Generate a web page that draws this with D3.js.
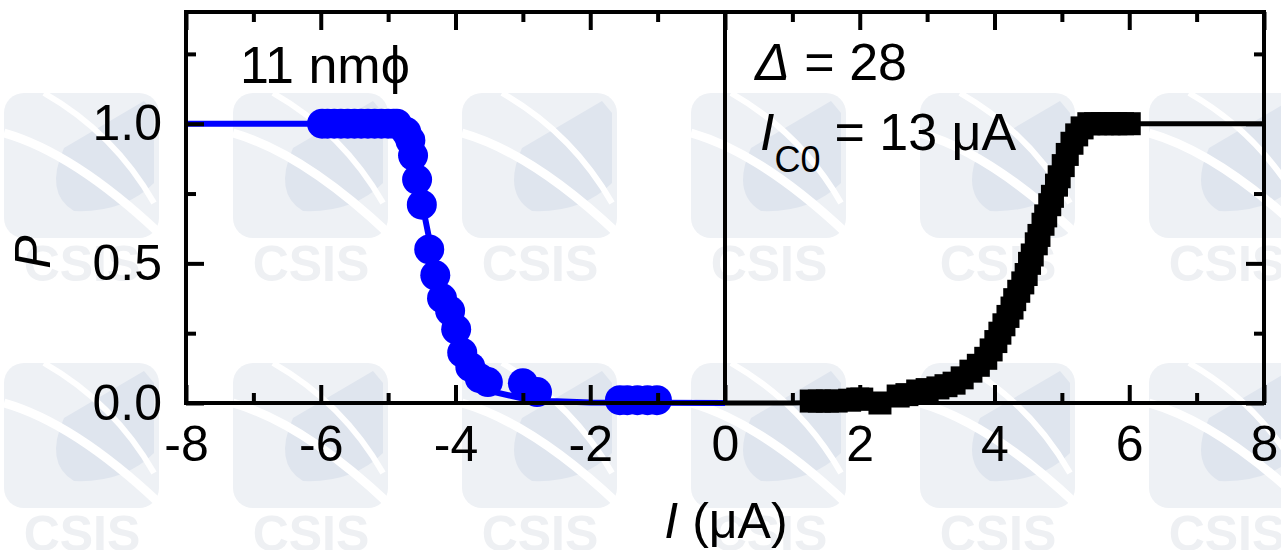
<!DOCTYPE html>
<html>
<head>
<meta charset="utf-8">
<script src="https://cdn.jsdelivr.net/npm/d3@7"></script>
<style>
  body { margin: 0; background: #fff; }
  svg { display: block; font-family: "Liberation Sans", Arial, sans-serif; }
</style>
</head>
<body>
<div id="chart"></div>
<script>
// tick values
const xTicks = [-8, -6, -4, -2, 0, 2, 4, 6, 8];
const xMinor = [-7, -5, -3, -1, 1, 3, 5, 7];
const yTicks = [0.0, 0.5, 1.0];
const yMinor = [0.25, 0.75, 1.25];

// 11 nm sample, negative current (blue circles)
const blueI = [-5.98, -5.9, -5.8, -5.7, -5.6, -5.5, -5.4, -5.3, -5.2, -5.1, -5.0, -4.92, -4.87,
    -4.73, -4.67, -4.63, -4.57, -4.50, -4.39, -4.30, -4.20, -4.08, -3.99, -3.90, -3.78, -3.64,
    -3.52, -3.0, -2.79, -1.56, -1.45, -1.3, -1.15, -1.01];
const blueP = [1, 1, 1, 1, 1, 1, 1, 1, 1, 1, 1, 1, 1,
    0.97, 0.94, 0.886, 0.80, 0.71, 0.55, 0.457, 0.375, 0.33, 0.264, 0.18, 0.129, 0.089,
    0.075, 0.071, 0.039, 0.01, 0.01, 0.01, 0.01, 0.01];
// fitted curve (blue)
const blueFitI = [-8, -5.2, -5.0, -4.9, -4.8, -4.7, -4.6, -4.5, -4.4, -4.3, -4.2, -4.1, -4.0, -3.8, -3.6, -3.4, -3.0, -2.6, -2.0, 0];
const blueFitP = [1, 1, 0.995, 0.98, 0.95, 0.9, 0.83, 0.72, 0.6, 0.48, 0.38, 0.3, 0.23, 0.13, 0.07, 0.038, 0.016, 0.007, 0.002, 0];

// positive current (black squares)
const blackI = [1.28, 1.4, 1.52, 1.65, 1.85, 1.97, 2.03, 2.3, 2.57, 2.7, 2.86, 3.0, 3.16, 3.28, 3.40,
    3.52, 3.65, 3.76, 3.87, 3.95, 4.02, 4.08,
    4.14, 4.2, 4.26, 4.3, 4.36, 4.42, 4.47, 4.52, 4.56, 4.62, 4.66, 4.72, 4.76, 4.82, 4.86,
    4.92, 4.96, 5.02, 5.08, 5.15, 5.22, 5.3,
    5.4, 5.5, 5.6, 5.7, 5.8, 5.9, 6.0];
const blackP = [0.007, 0.007, 0.007, 0.007, 0.01, 0.014, 0.014, 0.0, 0.025, 0.03, 0.043, 0.048, 0.054, 0.062, 0.071,
    0.09, 0.114, 0.135, 0.16, 0.19, 0.22, 0.25,
    0.28, 0.31, 0.34, 0.37, 0.40, 0.43, 0.46, 0.50, 0.53, 0.57, 0.60, 0.64, 0.67, 0.71, 0.74,
    0.78, 0.81, 0.85, 0.89, 0.93, 0.96, 0.985,
    1, 1, 1, 1, 1, 1, 1];
const blackFitI = [0, 1, 2, 3, 3.5, 4, 4.4, 4.8, 5.2, 5.6, 8];
const blackFitP = [0, 0, 0.005, 0.04, 0.09, 0.2, 0.4, 0.7, 0.93, 1.0, 1.0];

const width = 1281;
const height = 550;
const margin = { top: 12, left: 186, right: 17, bottom: 147 };

const svg = d3.select("#chart")
    .append("svg")
    .attr("width", width)
    .attr("height", height);

// background watermark tiles (faint)
const wm = svg.append("g").attr("class", "watermark");
for (let j = -1; j <= 1; j++) {
    for (let k = 0; k < 6; k++) {
        const tx = 4 + 229 * k;
        const ty = 93 + 270 * j;
        const t = wm.append("g").attr("transform", `translate(${tx},${ty})`);
        t.append("rect")
            .attr("width", 155).attr("height", 145).attr("rx", 20)
            .attr("fill", "#eef1f5");
        t.append("path")
            .attr("d", "M60,55 L140,8 L150,20 L150,90 Q120,120 70,118 Q40,100 60,55 Z")
            .attr("fill", "#dfe5ee");
        t.append("path")
            .attr("d", "M0,40 Q70,60 155,140")
            .attr("fill", "none").attr("stroke", "#fff").attr("stroke-width", 9);
        t.append("path")
            .attr("d", "M40,0 Q110,40 150,110")
            .attr("fill", "none").attr("stroke", "#fff").attr("stroke-width", 6);
        if (j >= 0) {
            t.append("text")
                .attr("x", 78).attr("y", 188)
                .attr("text-anchor", "middle")
                .attr("font-size", 50).attr("font-weight", "bold")
                .attr("fill", "#eef0f3")
                .text("CSIS");
        }
    }
}

const xScale = d3.scaleLinear()
    .domain([-8, 8])
    .range([margin.left, width - margin.right]);

const yScale = d3.scaleLinear()
    .domain([0, 1.4])
    .range([height - margin.bottom, margin.top]);

const x0 = margin.left, x1 = width - margin.right;
const y0 = height - margin.bottom, y1 = margin.top;

// fits
const line = d3.line()
    .x(d => xScale(d[0]))
    .y(d => yScale(d[1]));

svg.append("path")
    .datum(blueFitI.map((v, i) => [v, blueFitP[i]]))
    .attr("d", line)
    .attr("fill", "none")
    .attr("stroke", "#0000ff")
    .attr("stroke-width", 6);

svg.append("path")
    .datum(blackFitI.map((v, i) => [v, blackFitP[i]]))
    .attr("d", line)
    .attr("fill", "none")
    .attr("stroke", "#000")
    .attr("stroke-width", 5);

// data markers
svg.append("g").selectAll("circle")
    .data(blueI.map((v, i) => [v, blueP[i]]))
    .enter()
    .append("circle")
    .attr("cx", d => xScale(d[0]))
    .attr("cy", d => yScale(d[1]))
    .attr("r", 15)
    .attr("fill", "#0000ff");

const sq = 23;
svg.append("g").selectAll("rect")
    .data(blackI.map((v, i) => [v, blackP[i]]))
    .enter()
    .append("rect")
    .attr("x", d => xScale(d[0]) - sq / 2)
    .attr("y", d => yScale(d[1]) - sq / 2)
    .attr("width", sq)
    .attr("height", sq)
    .attr("fill", "#000");

// axes: bottom/top/left/right, ticks pointing inward
const major = 18, minor = 10;
const fmtX = d => String(d);
svg.append("g")
    .attr("transform", `translate(0,${y0})`)
    .call(d3.axisBottom(xScale).tickValues(xTicks).tickSize(-major).tickPadding(22).tickFormat(fmtX));
svg.append("g")
    .attr("transform", `translate(0,${y0})`)
    .call(d3.axisBottom(xScale).tickValues(xMinor).tickSize(-minor).tickFormat(""));
svg.append("g")
    .attr("transform", `translate(0,${y1})`)
    .call(d3.axisTop(xScale).tickValues(xTicks).tickSize(-major).tickFormat(""));
svg.append("g")
    .attr("transform", `translate(0,${y1})`)
    .call(d3.axisTop(xScale).tickValues(xMinor).tickSize(-minor).tickFormat(""));
svg.append("g")
    .attr("transform", `translate(${x0},0)`)
    .call(d3.axisLeft(yScale).tickValues(yTicks).tickSize(-major).tickPadding(24).tickFormat(d => d.toFixed(1)));
svg.append("g")
    .attr("transform", `translate(${x0},0)`)
    .call(d3.axisLeft(yScale).tickValues(yMinor).tickSize(-minor).tickFormat(""));
svg.append("g")
    .attr("transform", `translate(${x1},0)`)
    .call(d3.axisRight(yScale).tickValues(yTicks).tickSize(-major).tickFormat(""));
svg.append("g")
    .attr("transform", `translate(${x1},0)`)
    .call(d3.axisRight(yScale).tickValues(yMinor).tickSize(-minor).tickFormat(""));

svg.selectAll(".domain").remove();
svg.selectAll(".tick line").attr("stroke", "#000").attr("stroke-width", 4);
svg.selectAll(".tick text")
    .attr("font-size", 50)
    .attr("fill", "#000")
    .attr("font-family", "Liberation Sans, Arial, sans-serif");

// frame and centre line
svg.append("rect")
    .attr("x", x0).attr("y", y1)
    .attr("width", x1 - x0).attr("height", y0 - y1)
    .attr("fill", "none").attr("stroke", "#000").attr("stroke-width", 4);
svg.append("line")
    .attr("x1", xScale(0)).attr("x2", xScale(0))
    .attr("y1", y1).attr("y2", y0)
    .attr("stroke", "#000").attr("stroke-width", 4);

// axis labels
svg.append("text")
    .attr("x", 726).attr("y", 538)
    .attr("text-anchor", "middle")
    .attr("font-size", 50)
    .html('<tspan font-style="italic">I</tspan> (μA)');

svg.append("text")
    .attr("transform", "translate(50,252) rotate(-90)")
    .attr("text-anchor", "middle")
    .attr("font-size", 50)
    .attr("font-style", "italic")
    .text("P");

// annotations
svg.append("text")
    .attr("x", 240).attr("y", 83)
    .attr("font-size", 52)
    .text("11 nmϕ");

svg.append("text")
    .attr("x", 755).attr("y", 80)
    .attr("font-size", 52)
    .html('<tspan font-style="italic">Δ</tspan> = 28');

svg.append("text")
    .attr("x", 760).attr("y", 150)
    .attr("font-size", 52)
    .html('<tspan font-style="italic">I</tspan><tspan font-size="36" dy="22">C0</tspan><tspan dy="-22" dx="14">= 13 μA</tspan>');
</script>
</body>
</html>
